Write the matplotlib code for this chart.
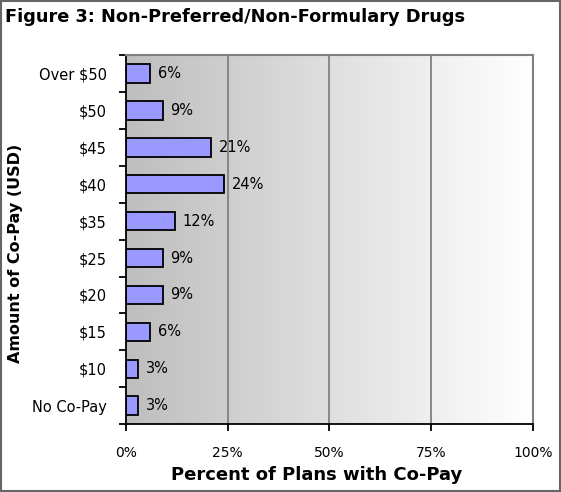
import matplotlib.pyplot as plt
import numpy as np
from matplotlib.patches import Rectangle
from matplotlib.colors import LinearSegmentedColormap

categories = ['No Co-Pay', '$10', '$15', '$20', '$25', '$35', '$40', '$45', '$50', 'Over $50']
percents = [3, 3, 6, 9, 9, 12, 24, 21, 9, 6]
xticks = [0, 25, 50, 75, 100]

fig = plt.figure(figsize=(5.61, 4.92), dpi=100)
fig.patch.set_facecolor('white')
fig.patches.append(Rectangle((0.002, 0.002), 0.996, 0.996, transform=fig.transFigure,
                             fill=False, edgecolor='#666666', linewidth=1.5))

ax = fig.add_axes([0.2246, 0.138, 0.7254, 0.750])

# gray-to-white gradient background
grad = np.linspace(0, 1, 256).reshape(1, -1)
ax.imshow(grad, extent=[0, 100, -0.5, len(categories) - 0.5], aspect='auto',
          cmap=LinearSegmentedColormap.from_list('g', ['#bebebe', '#ffffff']),
          zorder=0)

for g in xticks[1:]:
    ax.axvline(g, color='#808080', linewidth=1.3, zorder=1)

y = np.arange(len(categories))
ax.barh(y, percents, height=0.5, color='#9999ff', edgecolor='black', linewidth=1.3, zorder=2)
for yi, p in zip(y, percents):
    ax.text(p + 1.9, yi, '%d%%' % p, va='center', ha='left', fontsize=10.5, zorder=3)

ax.set_xlim(0, 100)
ax.set_ylim(-0.5, len(categories) - 0.5)
ax.set_xticks(xticks)
ax.set_xticklabels(['%d%%' % t for t in xticks], fontsize=10)
ax.set_yticks(y)
ax.set_yticklabels(categories, fontsize=10.5)
ax.set_yticks(np.arange(-0.5, len(categories), 1), minor=True)
ax.tick_params(axis='y', which='major', length=0, pad=14)
ax.tick_params(axis='y', which='minor', length=5, width=1.3, direction='out')
ax.tick_params(axis='x', length=5, width=1.3, direction='out', pad=11)

for s in ['top', 'right']:
    ax.spines[s].set_color('#808080')
    ax.spines[s].set_linewidth(1.5)
for s in ['left', 'bottom']:
    ax.spines[s].set_color('black')
    ax.spines[s].set_linewidth(1.3)

ax.set_xlabel('Percent of Plans with Co-Pay', fontsize=13, fontweight='bold')
ax.xaxis.set_label_coords(0.469, -0.113)
fig.text(0.027, 0.486, 'Amount of Co-Pay (USD)', fontsize=11.5, fontweight='bold',
         rotation=90, ha='center', va='center')

fig.text(0.009, 0.983, 'Figure 3: Non-Preferred/Non-Formulary Drugs', fontsize=12.8,
         fontweight='bold', ha='left', va='top')

fig.savefig('out.png', dpi=100)
